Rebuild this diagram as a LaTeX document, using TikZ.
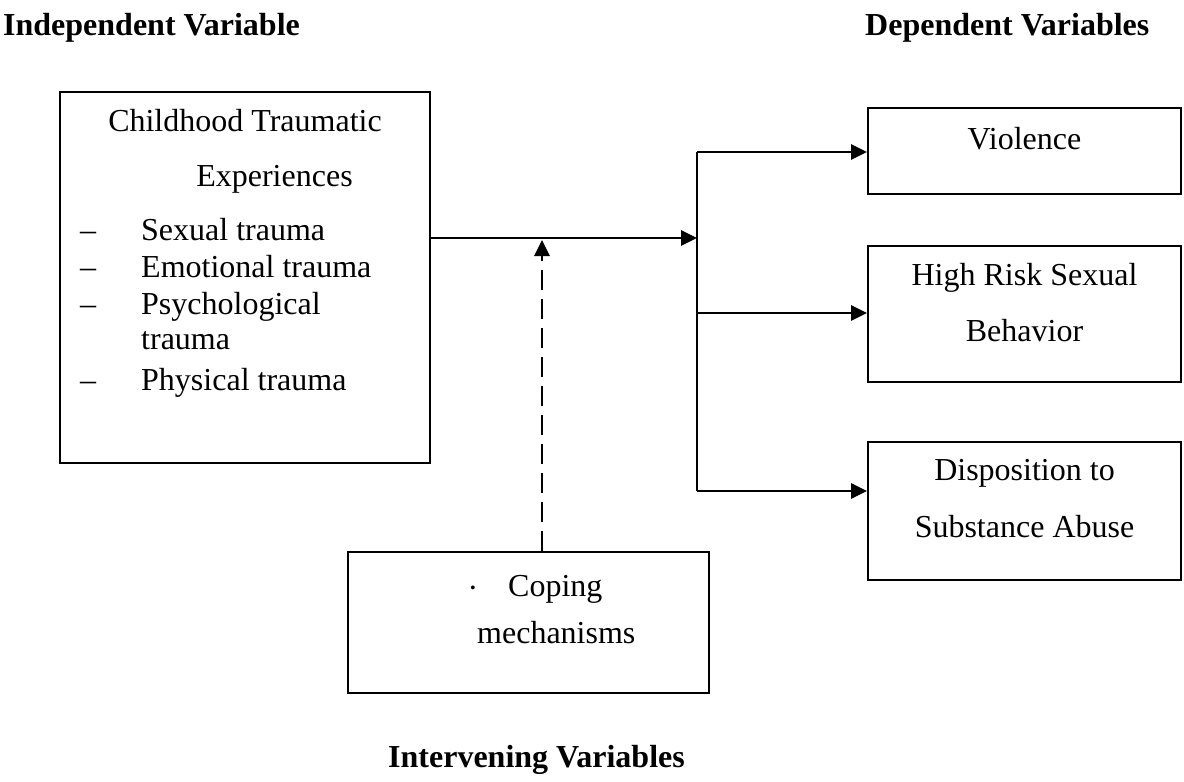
\documentclass[tikz,border=0pt]{standalone}
\usepackage{fontspec}
\setmainfont{Liberation Serif}
\usetikzlibrary{arrows.meta,calc}
\begin{document}
\begin{tikzpicture}[x=1pt,y=-1pt,
  box/.style={draw,line width=1.8pt,inner sep=0pt},
  txt/.style={inner sep=0pt,font=\fontsize{32}{38}\selectfont},
  hdr/.style={inner sep=0pt,anchor=base west,font=\fontsize{32}{38}\selectfont\bfseries},
  conn/.style={line width=2.8pt,-{Triangle[length=16pt,width=15pt]}},
  dconn/.style={line width=2.8pt,dash pattern=on 20pt off 9pt,-{Triangle[length=16pt,width=15pt]}}]
\useasboundingbox (0,0) rectangle (1184,782);
% headers
\node[hdr] (h1) at (3,35) {Independent Variable};
\node[hdr] (h2) at (865,35) {Dependent Variables};
\node[hdr] (h3) at (388,767) {Intervening Variables};
% left box
\node[box,minimum width=370pt,minimum height=371pt] (lb) at (245,277.5) {};
\node[txt,anchor=base] (t1) at (245,131) {Childhood Traumatic};
\node[txt,anchor=base] (t2) at (274.5,186) {Experiences};
\node[txt,anchor=base west] (d1) at (80,240) {–};
\node[txt,anchor=base west] (d2) at (80,277) {–};
\node[txt,anchor=base west] (d3) at (80,314) {–};
\node[txt,anchor=base west] (d4) at (80,390) {–};
\node[txt,anchor=base west] (i1) at (141,240) {Sexual trauma};
\node[txt,anchor=base west] (i2) at (141,277) {Emotional trauma};
\node[txt,anchor=base west] (i3) at (141,314) {Psychological};
\node[txt,anchor=base west] (i3b) at (141,349) {trauma};
\node[txt,anchor=base west] (i4) at (141,390) {Physical trauma};
% right boxes
\node[box,minimum width=313pt,minimum height=86pt] (v) at (1024.5,151) {};
\node[txt,anchor=base] (vt) at (1024.5,149) {Violence};
\node[box,minimum width=313pt,minimum height=136pt] (hr) at (1024.5,314) {};
\node[txt,anchor=base] (hrt1) at (1024.5,285) {High Risk Sexual};
\node[txt,anchor=base] (hrt2) at (1024.5,341) {Behavior};
\node[box,minimum width=313pt,minimum height=138pt] (ds) at (1024.5,511) {};
\node[txt,anchor=base] (dst1) at (1024.5,480) {Disposition to};
\node[txt,anchor=base] (dst2) at (1024.5,537) {Substance Abuse};
% coping box
\node[box,minimum width=361pt,minimum height=141pt] (cb) at (528.5,622.5) {};
\node[txt,anchor=base] (cdot) at (473,598) {·};
\node[txt,anchor=base west] (ct1) at (508,596) {Coping};
\node[txt,anchor=base west] (ct2) at (477,643) {mechanisms};
% connectors
\coordinate (jn) at (697,238);
\coordinate (jt) at (697,152);
\coordinate (jm) at (697,313);
\coordinate (jb) at (697,491);
\coordinate (dt) at (542,240);
\draw[conn] (lb.east |- jn) -- (jn);
\draw[line width=2.8pt] (jt) -- (jb);
\draw[conn] (jt) -- (v.west |- jt);
\draw[conn] (jm) -- (hr.west |- jm);
\draw[conn] (jb) -- (ds.west |- jb);
\draw[dconn] (cb.north -| dt) -- (dt);
\end{tikzpicture}
\end{document}
